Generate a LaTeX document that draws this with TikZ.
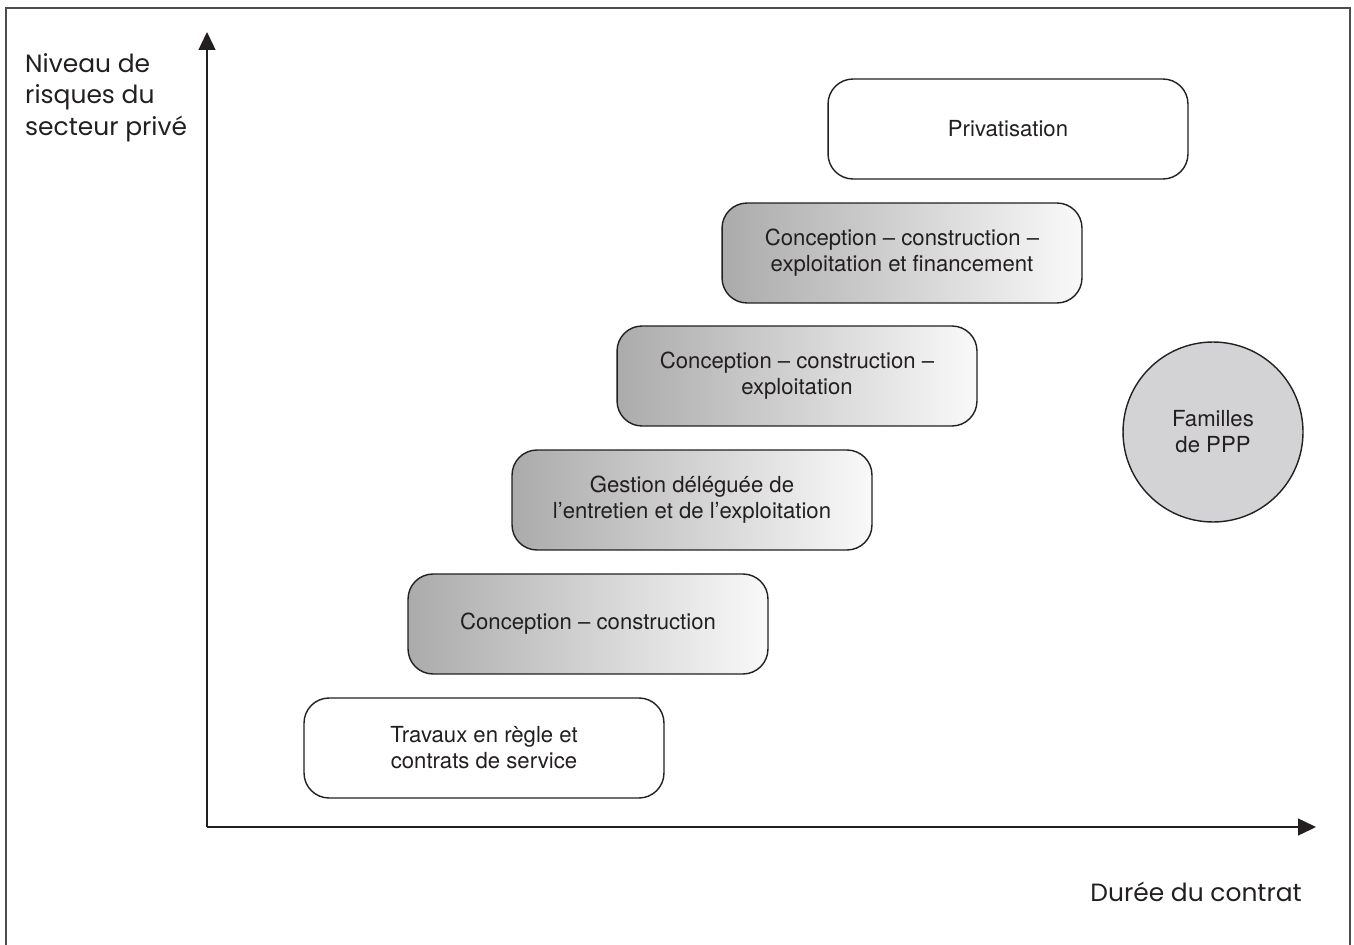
\documentclass[tikz,border=0pt]{standalone}
\usepackage{fontspec}
\setmainfont{TeX Gyre Heros}
\newfontfamily\axisfont{Poppins}
\usetikzlibrary{arrows.meta}
\definecolor{trait}{HTML}{231F20}
\definecolor{grisfonce}{HTML}{ABABAB}
\definecolor{grisclair}{HTML}{F9F9F9}
\definecolor{grisrond}{HTML}{D3D3D5}
\tikzset{
	famille/.style={draw=trait, thick, rounded corners=0.5cm, minimum width=7.2cm, minimum height=2cm, align=center, text=trait, font=\fontsize{12.6}{14.8}\selectfont},
	degrade/.style={famille, left color=grisfonce, right color=grisclair},
	axe/.style={draw=trait, thick, -{Triangle[length=0.36cm, width=0.34cm]}},
	legende/.style={text=trait, font=\axisfont\fontsize{14.2}{18.1}\selectfont}
}

\begin{document}
\begin{tikzpicture}[x=0.02cm, y=-0.02cm]
			\useasboundingbox (0,0) rectangle (1354,945);
			\draw[trait!80, thick] (6,945) -- (6,8) -- (1350,8) -- (1350,945);

			\coordinate (O) at (207,827);
			\coordinate (haut) at (207,32);
			\coordinate (droite) at (1316,827);

			\draw[axe] (O) -- (haut);
			\draw[axe] (O) -- (droite);

			\node[legende, align=left, anchor=north west] (niveau) at (19,47) {Niveau de\\risques du\\secteur privé};
			\node[legende, anchor=east] (duree) at (1308,892) {Durée du contrat};

			\node[famille, fill=white] (travaux) at (484,748) {Travaux en règle et\\contrats de service};
			\node[degrade] (cc) at (588,624) {Conception – construction};
			\node[degrade] (gestion) at (692,500) {Gestion déléguée de\\l’entretien et de l’exploitation};
			\node[degrade] (cce) at (797,376) {Conception – construction –\\exploitation};
			\node[degrade] (ccef) at (902,253) {Conception – construction –\\exploitation et financement};
			\node[famille, fill=white] (privatisation) at (1008,129) {Privatisation};

			\node[circle, draw=trait, thick, fill=grisrond, minimum size=3.6cm, align=center, text=trait, font=\fontsize{12.6}{14.8}\selectfont] (ppp) at (1213,432) {Familles\\de PPP};

		\end{tikzpicture}
\end{document}
